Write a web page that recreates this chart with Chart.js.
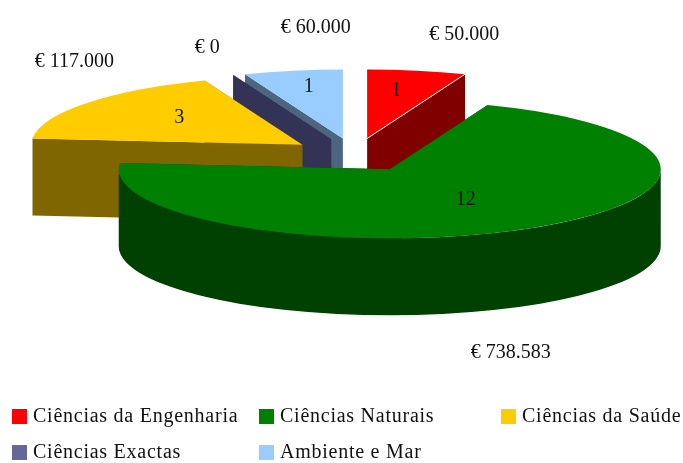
<!DOCTYPE html>
<html><head><meta charset="utf-8">
<style>html,body{margin:0;padding:0;background:#fff}canvas{display:block}</style>
<script src="https://cdn.jsdelivr.net/npm/chart.js@4"></script>
</head><body>
<canvas id="c" width="683" height="463"></canvas>
<script>
const categories = ["Ciências da Engenharia","Ciências Naturais","Ciências da Saúde","Ciências Exactas","Ambiente e Mar"];
const projectCounts = [1,12,3,0,1];
const fundingLabels = ["€ 50.000","€ 738.583","€ 117.000","€ 0","€ 60.000"];
const topColors = ["#ff0000","#008000","#ffcc00","#666699","#99ccff"];
const wallColors = ["#800000","#004000","#806600","#333355","#4d6680"];

// layout of the fake 3D projection
const CX = 355, CY = 155, RX = 271, RY = 69, DEPTH = 77, EXPLODE = 66, TILT = RY / RX;
const PAINT_ORDER = [4,3,2,0,1];
// text nudges relative to each slice's apex
const countNudge = [[29,-48],[76,30],[-123,-27],null,[-34,-52]];
const valueNudge = [[97,-104],[121,183],[-228,-83],[-124,-92],[-27,-111]];
const legendSlots = [[12,417],[259,417],[501,417],[12,453],[259,453]];
const FONT = '20px "Liberation Serif"';

const apex = arc => {
  const mid = (arc.startAngle + arc.endAngle) / 2;
  return [CX + EXPLODE * Math.cos(mid), CY + EXPLODE * TILT * Math.sin(mid)];
};

const pie3d = {
  id: 'pie3d',
  beforeDatasetsDraw(chart) {
    const ctx = chart.ctx, arcs = chart.getDatasetMeta(0).data;
    for (const i of PAINT_ORDER) {
      const arc = arcs[i], R = arc.outerRadius, [ax, ay] = apex(arc);
      ctx.fillStyle = wallColors[i];
      for (const a of [arc.startAngle, arc.endAngle]) {
        const rx = ax + RX * Math.cos(a), ry = ay + RY * Math.sin(a);
        ctx.beginPath();
        ctx.moveTo(ax, ay); ctx.lineTo(rx, ry); ctx.lineTo(rx, ry + DEPTH); ctx.lineTo(ax, ay + DEPTH);
        ctx.closePath(); ctx.fill();
      }
      if (arc.circumference === 0) continue;
      // only the front half of the rim faces the viewer
      const from = Math.max(arc.startAngle, 0), to = Math.min(arc.endAngle, Math.PI);
      if (from < to) {
        ctx.beginPath();
        ctx.ellipse(ax, ay, RX, RY, 0, from, to);
        ctx.ellipse(ax, ay + DEPTH, RX, RY, 0, to, from, true);
        ctx.closePath(); ctx.fill();
      }
      ctx.save();
      ctx.translate(ax, ay); ctx.scale(RX / R, RY / R); ctx.translate(-arc.x, -arc.y);
      arc.draw(ctx);
      ctx.restore();
      if (i === 0) {
        ctx.strokeStyle = '#fff'; ctx.lineWidth = 1;
        ctx.beginPath(); ctx.moveTo(ax, ay);
        ctx.lineTo(ax + RX * Math.cos(arc.endAngle), ay + RY * Math.sin(arc.endAngle));
        ctx.stroke();
      }
    }
    return false;
  },
  afterDraw(chart) {
    const ctx = chart.ctx, arcs = chart.getDatasetMeta(0).data;
    ctx.save();
    ctx.font = FONT; ctx.fillStyle = '#111'; ctx.textBaseline = 'middle'; ctx.textAlign = 'center';
    arcs.forEach((arc, i) => {
      const [ax, ay] = apex(arc);
      if (countNudge[i]) ctx.fillText(String(projectCounts[i]), ax + countNudge[i][0], ay + countNudge[i][1]);
      ctx.fillText(fundingLabels[i], ax + valueNudge[i][0], ay + valueNudge[i][1]);
    });
    ctx.textAlign = 'left';
    ctx.letterSpacing = '0.75px';
    categories.forEach((name, i) => {
      const [x, y] = legendSlots[i];
      ctx.fillStyle = topColors[i];
      ctx.fillRect(x, y - 8, 15, 15);
      ctx.fillStyle = '#111';
      ctx.fillText(name, x + 21, y);
    });
    ctx.restore();
  }
};

new Chart(document.getElementById('c'), {
  type: 'pie',
  data: { labels: categories, datasets: [{ data: projectCounts, backgroundColor: topColors, borderWidth: 0 }] },
  options: {
    responsive: false, animation: false,
    plugins: { legend: { display: false }, tooltip: { enabled: false } }
  },
  plugins: [pie3d]
});
</script>
</body></html>
